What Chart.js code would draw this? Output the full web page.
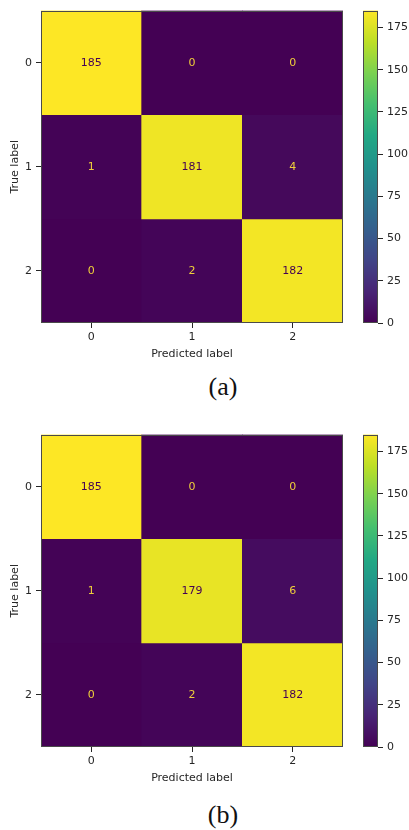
<!DOCTYPE html>
<html>
<head>
<meta charset="utf-8">
<script src="https://cdn.jsdelivr.net/npm/chart.js@4.4.1/dist/chart.umd.min.js"></script>
<style>
  html, body { margin: 0; padding: 0; background: #fff; }
  body { width: 409px; height: 830px; position: relative; overflow: hidden; }
  canvas { position: absolute; }
  .cap { position: absolute; width: 80px; margin-left: -40px; text-align: center;
         font-family: "Liberation Serif", "DejaVu Serif", serif; font-size: 26px; color: #111; line-height: 1; }
</style>
</head>
<body>
<canvas id="mA" width="355" height="365" style="left:0px;top:0px;width:355px;height:365px"></canvas>
<canvas id="cA" width="64" height="365" style="left:345px;top:0px;width:64px;height:365px"></canvas>
<div class="cap" style="left:223px;top:374px">(a)</div>
<canvas id="mB" width="355" height="365" style="left:0px;top:424px;width:355px;height:365px"></canvas>
<canvas id="cB" width="64" height="365" style="left:345px;top:424px;width:64px;height:365px"></canvas>
<div class="cap" style="left:223px;top:802px">(b)</div>
<script>
// ---------------- DATA ----------------
const predictedLabels = ['0', '1', '2'];
const trueLabels = ['0', '1', '2'];
const matrixA = [
  [185, 0, 0],
  [1, 181, 4],
  [0, 2, 182]
];
const matrixB = [
  [185, 0, 0],
  [1, 179, 6],
  [0, 2, 182]
];
const colorbarTicks = [0, 25, 50, 75, 100, 125, 150, 175];
const colorMin = 0;
const colorMax = 185;
// --------------------------------------

const viridisStops = [
  [0.0, [68, 1, 84]], [0.1, [72, 36, 117]], [0.2, [65, 68, 135]], [0.3, [53, 95, 141]],
  [0.4, [42, 120, 142]], [0.5, [33, 145, 140]], [0.6, [34, 168, 132]], [0.7, [68, 191, 112]],
  [0.8, [122, 209, 81]], [0.9, [189, 223, 38]], [1.0, [253, 231, 37]]
];
function viridis(t) {
  t = Math.max(0, Math.min(1, t));
  for (let i = 1; i < viridisStops.length; i++) {
    const [t1, c1] = viridisStops[i];
    const [t0, c0] = viridisStops[i - 1];
    if (t <= t1) {
      const f = (t - t0) / (t1 - t0);
      const c = c0.map((v, k) => Math.round(v + (c1[k] - v) * f));
      return `rgb(${c[0]},${c[1]},${c[2]})`;
    }
  }
  return 'rgb(253,231,37)';
}

const FONT = { family: '"DejaVu Sans", sans-serif', size: 11 };
const TEXT = '#262626';
const SPINE = '#4a4a4a';

const framePlugin = {
  id: 'frame',
  afterDatasetsDraw(chart) {
    const a = chart.chartArea, ctx = chart.ctx;
    ctx.save();
    ctx.strokeStyle = SPINE;
    ctx.lineWidth = 1;
    ctx.strokeRect(Math.round(a.left) + 0.5, Math.round(a.top) + 0.5,
                   Math.round(a.right - a.left) - 1, Math.round(a.bottom - a.top) - 1);
    ctx.restore();
  }
};

const cellTextPlugin = {
  id: 'cellText',
  afterDatasetsDraw(chart) {
    const ctx = chart.ctx;
    ctx.save();
    ctx.font = `${FONT.size}px ${FONT.family}`;
    ctx.textAlign = 'center';
    ctx.textBaseline = 'middle';
    chart.data.datasets.forEach((ds, i) => {
      const meta = chart.getDatasetMeta(i);
      meta.data.forEach((el, j) => {
        const v = ds.values[j];
        const t = (v - colorMin) / (colorMax - colorMin);
        ctx.fillStyle = t > 0.5 ? '#440154' : '#efcf3a';
        ctx.fillText(String(v), el.x, (el.y + el.base) / 2 + 0.5);
      });
    });
    ctx.restore();
  }
};

function makeMatrix(id, matrix) {
  const datasets = matrix.map((row, r) => ({
    data: row.map(() => [r, r + 1]),
    values: row,
    backgroundColor: row.map(v => viridis((v - colorMin) / (colorMax - colorMin))),
    borderWidth: 0,
    grouped: false,
    barPercentage: 1,
    categoryPercentage: 1
  }));
  new Chart(document.getElementById(id), {
    type: 'bar',
    data: { labels: predictedLabels, datasets },
    options: {
      responsive: false,
      animation: false,
      devicePixelRatio: 1,
      layout: { padding: { top: 5, right: 12, left: 0, bottom: 0 } },
      plugins: { legend: { display: false }, tooltip: { enabled: false } },
      scales: {
        x: {
          offset: true,
          grid: { offset: false, drawOnChartArea: false, drawTicks: true, tickLength: 5, color: TEXT },
          border: { display: false },
          ticks: { font: FONT, color: TEXT, padding: 3, maxRotation: 0 },
          title: { display: true, text: 'Predicted label', font: FONT, color: TEXT, padding: { top: 2, bottom: 4 } },
          afterFit(s) { s.height = 42; }
        },
        y: {
          min: 0, max: 3, reverse: true,
          grid: { drawOnChartArea: false, drawTicks: true, tickLength: 5, color: TEXT },
          border: { display: false },
          afterBuildTicks(s) { s.ticks = trueLabels.map((_, i) => ({ value: i + 0.5 })); },
          ticks: { font: FONT, color: TEXT, padding: 4, callback: v => trueLabels[Math.floor(v)] },
          title: { display: true, text: 'True label', font: FONT, color: TEXT, padding: { top: 9, bottom: 0 } },
          afterFit(s) { s.width = 41; }
        }
      }
    },
    plugins: [cellTextPlugin, framePlugin]
  });
}

function makeColorbar(id) {
  new Chart(document.getElementById(id), {
    type: 'bar',
    data: {
      labels: [''],
      datasets: [{
        data: [[colorMin, colorMax]],
        borderWidth: 0,
        barPercentage: 1,
        categoryPercentage: 1,
        backgroundColor(ctx) {
          const a = ctx.chart.chartArea;
          if (!a) return viridis(0.5);
          const g = ctx.chart.ctx.createLinearGradient(0, a.bottom, 0, a.top);
          viridisStops.forEach(([t, c]) => g.addColorStop(t, `rgb(${c[0]},${c[1]},${c[2]})`));
          return g;
        }
      }]
    },
    options: {
      responsive: false,
      animation: false,
      devicePixelRatio: 1,
      layout: { padding: { top: 5, left: 18, right: 0, bottom: 42 } },
      plugins: { legend: { display: false }, tooltip: { enabled: false } },
      scales: {
        x: { display: false },
        y: {
          position: 'right',
          min: colorMin, max: colorMax,
          grid: { drawOnChartArea: false, drawTicks: true, tickLength: 5, color: TEXT },
          border: { display: false },
          afterBuildTicks(s) { s.ticks = colorbarTicks.map(v => ({ value: v })); },
          ticks: { font: FONT, color: TEXT, padding: 4 },
          afterFit(s) { s.width = 31; }
        }
      }
    },
    plugins: [framePlugin]
  });
}

makeMatrix('mA', matrixA);
makeColorbar('cA');
makeMatrix('mB', matrixB);
makeColorbar('cB');
</script>
</body>
</html>
